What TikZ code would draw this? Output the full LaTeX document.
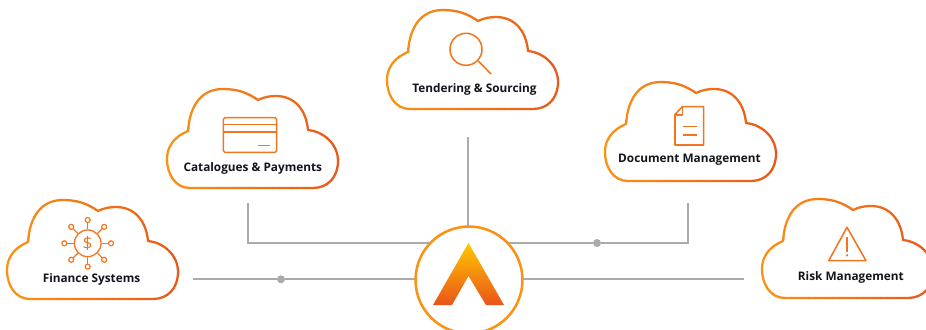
\documentclass[tikz,border=0pt]{standalone}
\usepackage{fontspec}
\setmainfont{Open Sans}
\usetikzlibrary{backgrounds}
\definecolor{cloudA}{HTML}{FA9215}
\definecolor{cloudB}{HTML}{E9541B}
\definecolor{iconC}{HTML}{F2761F}
\definecolor{wire}{HTML}{ABABAB}
\definecolor{ink}{HTML}{14141C}
\definecolor{peakC}{HTML}{FFC800}
\definecolor{midC}{HTML}{F59A0A}
\tikzset{
  cloudline/.style={line width=1.7pt,line join=round},
  icon/.style={draw=iconC,line width=1.15pt,line join=round},
  label/.style={font=\fontsize{8.85}{11}\selectfont\bfseries,text=ink,inner sep=0pt},
  wireline/.style={draw=wire,line width=1.4pt},
  junction/.style={circle,fill=#1,inner sep=0pt,minimum size=6pt},
  hubnode/.style={circle,draw=cloudA,line width=1.9pt,fill=white,inner sep=0pt,minimum size=80.2pt},
}
\newcommand{\cloudat}[2]{%
  \begin{scope}[shift={(#1,#2)}]
    \foreach \k in {0,...,30}{%
      \pgfmathsetmacro{\xstart}{5+\k*6}
      \pgfmathsetmacro{\xstop}{\xstart+6.25}
      \pgfmathsetmacro{\pct}{100-\k*100/30}
      \begin{scope}
        \clip (\xstart,190) rectangle (\xstop,310);
        \draw[cloudline,color=cloudA!\pct!cloudB]
          (30,299) .. controls (15,299) and (7,285) .. (7,270)
          .. controls (7,256) and (16,247) .. (28,242)
          .. controls (30,214) and (43,200) .. (63,200)
          .. controls (78,200) and (88,204) .. (98,211)
          .. controls (104,208) and (110,207) .. (116,207)
          .. controls (134,207) and (146,220) .. (148,241)
          .. controls (162,242) and (178,254) .. (178,272)
          .. controls (178,288) and (168,299) .. (153,299)
          -- cycle;
      \end{scope}
    }
  \end{scope}}
\begin{document}
\begin{tikzpicture}[x=0.75pt,y=-0.75pt]
\useasboundingbox (0,0) rectangle (926,329);
\clip (0,0) rectangle (926,329);

% hub
\node[hubnode] (hub) at (469,280) {};
\shade[top color=peakC,middle color=midC,bottom color=cloudB]
  (468.5,243) -- (504,305) -- (486,305) -- (468.5,276) -- (452,305) -- (433,305) -- cycle;

% connector ends
\coordinate (finEnd) at (193,279.3);
\coordinate (catEnd) at (248.3,203);
\coordinate (catBend) at (248.3,243.3);
\coordinate (tenEnd) at (468,137);
\coordinate (docEnd) at (688,203);
\coordinate (docBend) at (688,243);
\coordinate (riskEnd) at (744,279.3);
\node[junction=wire] (finDot) at (281,279.3) {};
\node[junction=wire] (docDot) at (597,243) {};

\begin{scope}[on background layer]
  \fill[white] (0,0) rectangle (926,329);
  \draw[wireline] (finEnd) -- (finDot) -- (hub.center |- finDot);
  \draw[wireline] (catEnd) -- (catBend) -- (hub.center |- catBend);
  \draw[wireline] (tenEnd) -- (tenEnd |- hub.center);
  \draw[wireline] (docEnd) -- (docBend) -- (docDot) -- (hub.center |- docDot);
  \draw[wireline] (riskEnd) -- (hub.center |- riskEnd);
\end{scope}

% clouds
\cloudat{0}{0}
\cloudat{160}{-111}
\cloudat{380}{-190}
\cloudat{598}{-118}
\cloudat{755}{-1}

% labels
\node[label] (finance) at (91.5,279) {Finance Systems};
\node[label] (catalogues) at (252.8,168) {Catalogues \& Payments};
\node[label] (tendering) at (474.5,89) {Tendering \& Sourcing};
\node[label] (document) at (689.5,160) {Document Management};
\node[label] (risk) at (850.8,277) {Risk Management};

% finance icon
\node[icon,circle,inner sep=0pt,minimum size=20pt,line width=1pt] (coin) at (87.7,243.3) {};
\node[inner sep=0pt,text=iconC,font=\fontsize{13}{13}\selectfont] (dollar) at (87.7,243.3) {\$};
\foreach \a in {0,45,...,315}{
  \draw[icon,line width=0.9pt] (87.7,243.3) ++(\a:14) -- ++(\a:6.5);
  \draw[icon,line width=0.9pt] (87.7,243.3) ++(\a:23.3) circle[radius=2.5];
}

% card icon
\draw[icon,rounded corners=1.2pt] (223.3,117.7) rectangle (276.7,152.3);
\draw[icon] (223.3,124.3) -- (276.7,124.3);
\draw[icon] (223.3,132) -- (276.7,132);
\draw[icon] (258.3,145.3) -- (270,145.3);

% magnifier icon
\draw[icon] (466,49.3) circle[radius=16];
\draw[icon] (478.3,61) -- (491,74);

% document icon
\draw[icon] (682.3,106.7) -- (703.7,106.7) -- (703.7,145) -- (675,145) -- (675,114.5) -- cycle;
\draw[icon] (675,115) -- (682.3,115) -- (682.3,106.7);
\draw[icon] (683.3,126.7) -- (696.7,126.7);
\draw[icon] (683.3,135) -- (696.7,135);

% warning icon
\draw[icon] (847,227.3) -- (866,260.7) -- (828.7,260.7) -- cycle;
\draw[icon] (847,236.7) -- (847,251.7);
\fill[iconC] (847,255.3) circle[radius=1.3];
\end{tikzpicture}
\end{document}
